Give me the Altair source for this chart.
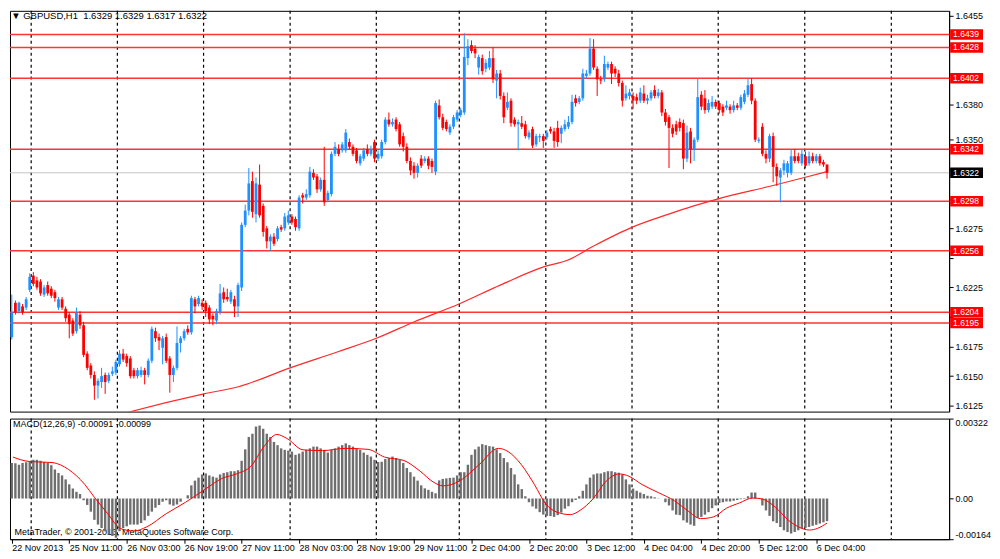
import altair as alt
import pandas as pd

FONT = "Liberation Sans"
W, H1, H2 = 942, 402, 121

# ---------------- candles (GBPUSD H1) ----------------
opens = [1.6183,1.6212,1.6205,1.6209,1.6208,1.6223,1.6235,1.6231,1.6230,1.6219,
1.6227,1.6224,1.6221,1.6208,1.6215,1.6207,1.6202,1.6197,1.6188,1.6202,
1.6193,1.6169,1.6159,1.6151,1.6142,1.6145,1.6151,1.6146,1.6152,1.6153,
1.6160,1.6169,1.6167,1.6165,1.6155,1.6150,1.6151,1.6155,1.6151,1.6163,
1.6188,1.6183,1.6174,1.6183,1.6165,1.6151,1.6157,1.6178,1.6182,1.6190,
1.6187,1.6215,1.6211,1.6212,1.6212,1.6208,1.6201,1.6197,1.6204,1.6221,
1.6217,1.6213,1.6215,1.6209,1.6225,1.6278,1.6290,1.6315,1.6287,1.6312,
1.6294,1.6275,1.6264,1.6268,1.6266,1.6276,1.6275,1.6280,1.6285,1.6283,
1.6275,1.6303,1.6301,1.6303,1.6322,1.6319,1.6308,1.6316,1.6299,1.6304,
1.6338,1.6342,1.6341,1.6341,1.6348,1.6344,1.6341,1.6330,1.6334,1.6342,
1.6338,1.6348,1.6334,1.6336,1.6348,1.6367,1.6363,1.6367,1.6363,1.6353,
1.6344,1.6332,1.6328,1.6322,1.6334,1.6332,1.6334,1.6332,1.6323,1.6379,
1.6369,1.6365,1.6356,1.6361,1.6367,1.6371,1.6373,1.6419,1.6430,1.6427,
1.6411,1.6419,1.6410,1.6411,1.6419,1.6400,1.6406,1.6387,1.6377,1.6383,
1.6367,1.6363,1.6364,1.6363,1.6352,1.6359,1.6346,1.6352,1.6353,1.6352,
1.6359,1.6357,1.6360,1.6355,1.6359,1.6361,1.6365,1.6385,1.6382,1.6385,
1.6404,1.6406,1.6427,1.6410,1.6401,1.6401,1.6411,1.6414,1.6410,1.6406,
1.6398,1.6385,1.6387,1.6387,1.6386,1.6383,1.6389,1.6383,1.6385,1.6392,
1.6387,1.6390,1.6373,1.6369,1.6360,1.6363,1.6365,1.6364,1.6334,1.6357,
1.6342,1.6350,1.6388,1.6385,1.6375,1.6378,1.6382,1.6381,1.6378,1.6377,
1.6378,1.6375,1.6379,1.6377,1.6382,1.6388,1.6397,1.6383,1.6349,1.6361,
1.6338,1.6334,1.6353,1.6327,1.6318,1.6324,1.6322,1.6322,1.6336,1.6336,
1.6330,1.6336,1.6330,1.6336,1.6332,1.6336,1.6331,1.6329]

highs = [1.6219,1.6214,1.6213,1.6211,1.6217,1.6237,1.6238,1.6234,1.6232,1.6227,
1.6230,1.6226,1.6223,1.6217,1.6217,1.6209,1.6204,1.6199,1.6208,1.6205,
1.6196,1.6171,1.6161,1.6154,1.6148,1.6157,1.6153,1.6153,1.6158,1.6164,
1.6172,1.6173,1.6169,1.6167,1.6157,1.6157,1.6158,1.6157,1.6165,1.6192,
1.6191,1.6186,1.6184,1.6186,1.6167,1.6159,1.6192,1.6184,1.6190,1.6193,
1.6218,1.6217,1.6218,1.6215,1.6214,1.6210,1.6203,1.6207,1.6228,1.6225,
1.6224,1.6223,1.6218,1.6229,1.6280,1.6295,1.6326,1.6323,1.6318,1.6329,
1.6296,1.6277,1.6270,1.6271,1.6277,1.6278,1.6288,1.6290,1.6287,1.6285,
1.6303,1.6305,1.6308,1.6327,1.6325,1.6321,1.6318,1.6344,1.6307,1.6340,
1.6348,1.6346,1.6348,1.6359,1.6351,1.6346,1.6343,1.6338,1.6343,1.6346,
1.6345,1.6350,1.6341,1.6350,1.6369,1.6373,1.6368,1.6369,1.6365,1.6356,
1.6347,1.6335,1.6331,1.6330,1.6337,1.6336,1.6336,1.6334,1.6383,1.6384,
1.6372,1.6367,1.6363,1.6371,1.6375,1.6377,1.6440,1.6435,1.6434,1.6430,
1.6422,1.6422,1.6418,1.6425,1.6428,1.6409,1.6409,1.6390,1.6390,1.6385,
1.6369,1.6367,1.6370,1.6366,1.6358,1.6361,1.6355,1.6355,1.6355,1.6358,
1.6361,1.6360,1.6366,1.6362,1.6367,1.6370,1.6388,1.6388,1.6387,1.6410,
1.6409,1.6436,1.6435,1.6412,1.6404,1.6421,1.6416,1.6416,1.6412,1.6409,
1.6400,1.6396,1.6393,1.6390,1.6389,1.6394,1.6396,1.6388,1.6392,1.6396,
1.6393,1.6392,1.6376,1.6371,1.6363,1.6366,1.6368,1.6367,1.6362,1.6360,
1.6352,1.6402,1.6391,1.6392,1.6384,1.6387,1.6384,1.6383,1.6380,1.6383,
1.6380,1.6383,1.6381,1.6388,1.6392,1.6402,1.6402,1.6385,1.6352,1.6364,
1.6341,1.6355,1.6356,1.6330,1.6326,1.6333,1.6332,1.6342,1.6342,1.6339,
1.6342,1.6340,1.6340,1.6339,1.6338,1.6338,1.6333,1.6329]

lows = [1.6181,1.6202,1.6203,1.6202,1.6206,1.6221,1.6226,1.6223,1.6218,1.6217,
1.6218,1.6216,1.6213,1.6206,1.6206,1.6196,1.6182,1.6184,1.6186,1.6190,
1.6166,1.6155,1.6148,1.6130,1.6131,1.6140,1.6135,1.6144,1.6150,1.6151,
1.6158,1.6162,1.6158,1.6148,1.6148,1.6148,1.6149,1.6143,1.6149,1.6161,
1.6179,1.6172,1.6160,1.6161,1.6136,1.6145,1.6155,1.6170,1.6180,1.6185,
1.6185,1.6203,1.6209,1.6206,1.6200,1.6194,1.6193,1.6194,1.6202,1.6212,
1.6213,1.6211,1.6200,1.6200,1.6222,1.6276,1.6286,1.6284,1.6280,1.6284,
1.6268,1.6258,1.6256,1.6260,1.6264,1.6272,1.6273,1.6278,1.6278,1.6273,
1.6273,1.6296,1.6299,1.6301,1.6316,1.6305,1.6306,1.6294,1.6297,1.6302,
1.6336,1.6336,1.6339,1.6339,1.6342,1.6336,1.6330,1.6328,1.6332,1.6336,
1.6336,1.6331,1.6332,1.6334,1.6346,1.6361,1.6361,1.6357,1.6344,1.6340,
1.6330,1.6320,1.6317,1.6318,1.6326,1.6330,1.6325,1.6322,1.6320,1.6367,
1.6358,1.6357,1.6354,1.6359,1.6365,1.6369,1.6371,1.6413,1.6423,1.6419,
1.6405,1.6405,1.6407,1.6409,1.6398,1.6385,1.6384,1.6364,1.6375,1.6361,
1.6361,1.6341,1.6359,1.6351,1.6350,1.6343,1.6344,1.6348,1.6343,1.6350,
1.6355,1.6343,1.6344,1.6347,1.6357,1.6359,1.6363,1.6378,1.6380,1.6383,
1.6402,1.6404,1.6409,1.6387,1.6397,1.6399,1.6409,1.6397,1.6403,1.6395,
1.6378,1.6383,1.6384,1.6376,1.6380,1.6381,1.6381,1.6380,1.6383,1.6385,
1.6385,1.6370,1.6362,1.6326,1.6352,1.6354,1.6357,1.6325,1.6331,1.6330,
1.6332,1.6348,1.6375,1.6372,1.6373,1.6376,1.6376,1.6372,1.6370,1.6375,
1.6372,1.6373,1.6375,1.6375,1.6380,1.6386,1.6380,1.6348,1.6347,1.6336,
1.6330,1.6331,1.6314,1.6311,1.6297,1.6320,1.6318,1.6320,1.6330,1.6330,
1.6328,1.6326,1.6328,1.6330,1.6330,1.6328,1.6327,1.6317]

closes = [1.6204,1.6204,1.6212,1.6204,1.6215,1.6234,1.6228,1.6225,1.6220,1.6225,
1.6220,1.6218,1.6216,1.6215,1.6208,1.6199,1.6194,1.6186,1.6204,1.6193,
1.6168,1.6157,1.6151,1.6142,1.6146,1.6150,1.6145,1.6151,1.6154,1.6162,
1.6169,1.6164,1.6161,1.6150,1.6150,1.6155,1.6155,1.6151,1.6163,1.6190,
1.6182,1.6180,1.6182,1.6163,1.6151,1.6157,1.6178,1.6182,1.6188,1.6187,
1.6216,1.6209,1.6216,1.6209,1.6205,1.6198,1.6198,1.6205,1.6220,1.6215,
1.6215,1.6221,1.6209,1.6227,1.6278,1.6290,1.6313,1.6289,1.6313,1.6286,
1.6272,1.6264,1.6268,1.6262,1.6275,1.6274,1.6285,1.6286,1.6280,1.6276,
1.6301,1.6301,1.6304,1.6323,1.6318,1.6308,1.6316,1.6297,1.6305,1.6338,
1.6344,1.6338,1.6346,1.6356,1.6344,1.6338,1.6332,1.6336,1.6341,1.6338,
1.6342,1.6334,1.6338,1.6348,1.6367,1.6363,1.6365,1.6359,1.6346,1.6344,
1.6332,1.6324,1.6322,1.6328,1.6328,1.6334,1.6328,1.6327,1.6381,1.6369,
1.6360,1.6359,1.6361,1.6369,1.6373,1.6375,1.6420,1.6429,1.6425,1.6423,
1.6420,1.6408,1.6415,1.6419,1.6401,1.6406,1.6387,1.6369,1.6382,1.6364,
1.6363,1.6365,1.6361,1.6353,1.6356,1.6345,1.6353,1.6353,1.6349,1.6356,
1.6357,1.6349,1.6348,1.6360,1.6363,1.6365,1.6382,1.6381,1.6385,1.6406,
1.6406,1.6427,1.6411,1.6401,1.6400,1.6414,1.6414,1.6406,1.6406,1.6398,
1.6383,1.6389,1.6390,1.6383,1.6383,1.6390,1.6383,1.6385,1.6390,1.6387,
1.6390,1.6373,1.6365,1.6360,1.6355,1.6357,1.6360,1.6334,1.6356,1.6342,
1.6350,1.6386,1.6378,1.6375,1.6381,1.6382,1.6378,1.6375,1.6373,1.6379,
1.6375,1.6379,1.6377,1.6386,1.6389,1.6396,1.6383,1.6350,1.6350,1.6338,
1.6334,1.6353,1.6327,1.6319,1.6324,1.6330,1.6330,1.6336,1.6332,1.6332,
1.6338,1.6328,1.6336,1.6332,1.6336,1.6330,1.6329,1.6322]

# moving average (red line in price panel), read at a set of bars
ma_bar = [29.5, 31.9, 53.5, 63.1, 77.5, 91.2, 101.5, 112.1, 124.5, 136.0, 148.7,
          154.7, 162.0, 172.8, 182.9, 189.9, 196.7, 211.7, 220.7, 227.0]
ma_val = [1.6117, 1.6119, 1.6135, 1.6141, 1.6157, 1.6171, 1.6182, 1.6196, 1.6211,
          1.6227, 1.6243, 1.6248, 1.6260, 1.6276, 1.6287, 1.6294, 1.6300, 1.6311,
          1.6318, 1.6323]

# horizontal levels and their labels
level_prices = [1.6439, 1.6428, 1.6402, 1.6342, 1.6298, 1.6256, 1.6204, 1.6195]
bid_price = [1.6322]
price_ticks = [1.6125, 1.6150, 1.6175, 1.6200, 1.6225, 1.6250, 1.6275, 1.6300,
               1.6325, 1.6350, 1.6380, 1.6405, 1.6430, 1.6455]
# tick labels left visible (the others sit under the price boxes)
price_labels_shown = [1.6125, 1.6150, 1.6175, 1.6225, 1.6275, 1.6350, 1.6380, 1.6455]

# ---------------- MACD(12,26,9) ----------------
macd_1e5 = [143,142,136,143,146,149,156,156,152,147,
143,134,117,103,93,77,57,40,27,18,
-7,-26,-53,-86,-105,-119,-132,-145,-151,-158,
-132,-119,-112,-105,-105,-105,-99,-88,-70,-53,
-37,-26,-13,-7,-24,-29,-24,-13,0,13,
53,72,84,97,101,93,88,84,97,103,
106,110,110,114,152,198,248,261,290,294,
281,261,248,228,215,202,196,193,189,176,
181,189,196,202,209,209,202,196,185,196,
202,209,215,222,215,209,202,196,185,176,
169,156,147,148,159,163,169,163,156,143,
123,106,88,72,53,41,35,27,21,73,
79,81,83,84,93,106,106,136,176,198,
209,219,215,
211,209,198,183,163,146,123,97,57,38,
9,-15,-32,-41,-55,-65,-70,-71,-74,-67,
-57,-41,-31,-15,-6,9,31,57,84,97,
101,101,106,110,110,106,104,97,77,57,
40,31,24,18,11,9,5,1,0,-15,
-28,-48,-65,-67,-88,-97,-105,-110,-78,-74,
-65,-55,-39,-28,-18,-15,-12,-12,-9,-6,
-3,2,9,24,24,2,-28,-48,-70,-92,
-99,-115,-128,-135,-141,-135,-128,-121,-118,-115,
-110,-106,-101,-96,-91]

sig_bar = [0.3, 4.9, 11.2, 15.8, 20.3, 23.0, 26.7, 30.3, 34.0, 37.6, 43.0, 48.4,
           53.9, 58.4, 62.9, 66.6, 70.2, 73.8, 76.6, 81.1, 86.5, 92.9, 99.2, 103.8,
           109.2, 113.7, 117.4, 120.1, 124.6, 130.1, 135.5, 138.2, 141.9, 145.5,
           148.7, 151.8, 155.5, 158.2, 161.8, 165.5, 169.1, 171.8, 175.4, 180.0,
           184.5, 188.1, 191.8, 195.4, 199.0, 202.6, 206.3, 209.0, 212.6, 216.3,
           219.0, 222.1, 224.4, 227.0]
sig_1e5 = [167, 149, 145, 117, 57, 5, -61, -121, -131, -114, -61, -15,
           38, 80, 101, 130, 209, 258, 242, 196, 193, 202, 198, 167,
           153, 110, 66, 51, 70, 136, 202, 189, 136, 57,
           -22, -55, -65, -48, -2, 70, 99, 90, 57, 24,
           -9, -48, -81, -74, -39, -18, 2, -2, -35, -88,
           -114, -127, -120, -99]

# ---------------- time axis ----------------
day_sep = [5.4, 29.4, 53.4, 77.5, 101.5, 124.6, 148.7, 172.7, 196.7, 220.8, 244.9]
time_tick_bar = [0, 16, 32, 48, 64, 80, 96, 112, 128, 144, 160, 176, 192, 208, 224]
time_labels = ["22 Nov 2013", "25 Nov 11:00", "26 Nov 03:00", "26 Nov 19:00",
               "27 Nov 11:00", "28 Nov 03:00", "28 Nov 19:00", "29 Nov 11:00",
               "2 Dec 04:00", "2 Dec 20:00", "3 Dec 12:00", "4 Dec 04:00",
               "4 Dec 20:00", "5 Dec 12:00", "6 Dec 04:00"]

# ---------------- frames ----------------
n = len(closes)
candles = pd.DataFrame({"i": list(range(n)), "open": opens, "high": highs,
                        "low": lows, "close": closes})
candles["dir"] = ["up" if c >= o else "down" for o, c in zip(opens, closes)]
ma_df = pd.DataFrame({"i": ma_bar, "v": ma_val})
lev_df = pd.DataFrame({"price": level_prices})
bid_df = pd.DataFrame({"price": bid_price})
sep_df = pd.DataFrame({"i": day_sep})
macd_df = pd.DataFrame({"i": list(range(len(macd_1e5))), "v": [m * 1e-5 for m in macd_1e5]})
sig_df = pd.DataFrame({"i": sig_bar, "v": [s * 1e-5 for s in sig_1e5]})

xs = alt.Scale(domain=[-0.5, 261.0], nice=False, zero=False, padding=0)
ys = alt.Scale(domain=[1.6120, 1.6459], nice=False, zero=False, padding=0)
ms = alt.Scale(domain=[-0.00164, 0.00322], nice=False, zero=False, padding=0)

shown_js = "[" + ",".join("%.4f" % v for v in price_labels_shown) + "]"
yaxis = alt.Axis(orient="right", values=price_ticks, tickSize=4,
                 labelExpr="indexof(%s, round(datum.value*10000)/10000) >= 0 ? format(datum.value, '.4f') : ''" % shown_js,
                 labelPadding=2, grid=False, title=None, labelFontSize=9,
                 labelFont=FONT, labelColor="black", tickColor="black",
                 domainColor="black")

def PX(f):
    return alt.X(f, type="quantitative", scale=xs, axis=None)

def PY(f):
    return alt.Y(f, type="quantitative", scale=ys, axis=yaxis)

color = alt.Color("dir:N", scale=alt.Scale(domain=["up", "down"],
                                            range=["#1e90ff", "#ff0000"]), legend=None)

seps = alt.Chart(sep_df).mark_rule(color="black", strokeDash=[3, 3], strokeWidth=1.2).encode(x=PX("i"))
levels = alt.Chart(lev_df).mark_rule(color="#ff3434", strokeWidth=1.5).encode(y=PY("price"))
bidline = alt.Chart(bid_df).mark_rule(color="#c4c4c4", strokeWidth=1).encode(y=PY("price"))
ma = alt.Chart(ma_df).mark_line(color="#ff2a2a", strokeWidth=1.2, clip=True,
                                interpolate="monotone").encode(x=PX("i"), y=PY("v"))
wicks = alt.Chart(candles).mark_rule(strokeWidth=1).encode(x=PX("i"), y=PY("low"), y2="high:Q", color=color)
bodies = alt.Chart(candles).mark_bar(size=2.8).encode(x=PX("i"), y=PY("open"), y2="close:Q", color=color)

box_shape = "M-1,-0.32L1,-0.32L1,0.32L-1,0.32Z"
lev_box = alt.Chart(lev_df).mark_point(shape=box_shape, size=33 * 33, filled=True, opacity=1,
                                       color="#ff0000", strokeWidth=0).encode(
    x=alt.value(W + 17.5), y=PY("price"))
lev_txt = alt.Chart(lev_df).mark_text(align="left", baseline="middle", color="white",
                                      fontSize=8.5, font=FONT).encode(
    x=alt.value(W + 4), y=PY("price"), text=alt.Text("price:Q", format=".4f"))
bid_box = alt.Chart(bid_df).mark_point(shape=box_shape, size=33 * 33, filled=True, opacity=1,
                                       color="#000000", strokeWidth=0).encode(
    x=alt.value(W + 17.5), y=PY("price"))
bid_txt = alt.Chart(bid_df).mark_text(align="left", baseline="middle", color="white",
                                      fontSize=8.5, font=FONT).encode(
    x=alt.value(W + 4), y=PY("price"), text=alt.Text("price:Q", format=".4f"))

main = alt.layer(seps, bidline, levels, ma, wicks, bodies, lev_box, lev_txt, bid_box, bid_txt).properties(
    width=W, height=H1,
    title=alt.Title("\u25bc GBPUSD,H1\u00a0\u00a01.6329 1.6329 1.6317 1.6322", anchor="start",
                    offset=-10, dx=2, fontSize=9.5, fontWeight="normal", font=FONT, color="black"))

label_js = "[" + ",".join("'" + t + "'" for t in time_labels) + "][round(datum.value/16)]"
xaxis = alt.Axis(values=time_tick_bar, labelExpr=label_js, labelAlign="left", labelPadding=0,
                 tickSize=4, grid=False, labelFlush=False, labelOverlap=False,
                 labelFontSize=9, labelFont=FONT, labelColor="black", tickColor="black",
                 domainColor="black",
                 title="MetaTrader, \u00a9 2001-2013, MetaQuotes Software Corp.",
                 titleX=4, titleY=-3, titleAlign="left", titleBaseline="bottom",
                 titleFontWeight="normal", titleFontSize=9, titleFont=FONT, titleColor="black")
maxis = alt.Axis(orient="right", values=[-0.00164, 0.0, 0.00322], tickSize=4, labelPadding=2,
                 grid=False, title=None, labelFontSize=9, labelFont=FONT, labelColor="black",
                 tickColor="black", domainColor="black",
                 labelExpr="datum.value > 0 ? '0.00322' : (datum.value < 0 ? '-0.00164' : '0.00')",
                 labelBaseline={"condition": {"test": "datum.value > 0.001", "value": "top"},
                                "value": "middle"},
                 labelOffset={"condition": {"test": "datum.value < -0.001", "value": -5},
                              "value": 0})

def MX(f):
    return alt.X(f, type="quantitative", scale=xs, axis=xaxis)

def MY(f):
    return alt.Y(f, type="quantitative", scale=ms, axis=maxis)

mseps = alt.Chart(sep_df).mark_rule(color="black", strokeDash=[3, 3], strokeWidth=1.2).encode(x=MX("i"))
hist = alt.Chart(macd_df).mark_bar(size=2.4, color="#6e6e6e").encode(x=MX("i"), y=MY("v"), y2=alt.datum(0))
sig = alt.Chart(sig_df).mark_line(color="#ff0000", strokeWidth=1, interpolate="monotone").encode(
    x=MX("i"), y=MY("v"))

macd = alt.layer(mseps, hist, sig).properties(
    width=W, height=H2,
    title=alt.Title("MACD(12,26,9) -0.00091 -0.00099", anchor="start", offset=-11, dx=3,
                    fontSize=9, fontWeight="normal", font=FONT, color="black"))

chart = alt.vconcat(main, macd, spacing=3).properties(padding=0).configure(
    font=FONT, background="white").configure_view(stroke="black", strokeWidth=1)

chart.save("out.html", embed_options={"renderer": "svg", "actions": False})
